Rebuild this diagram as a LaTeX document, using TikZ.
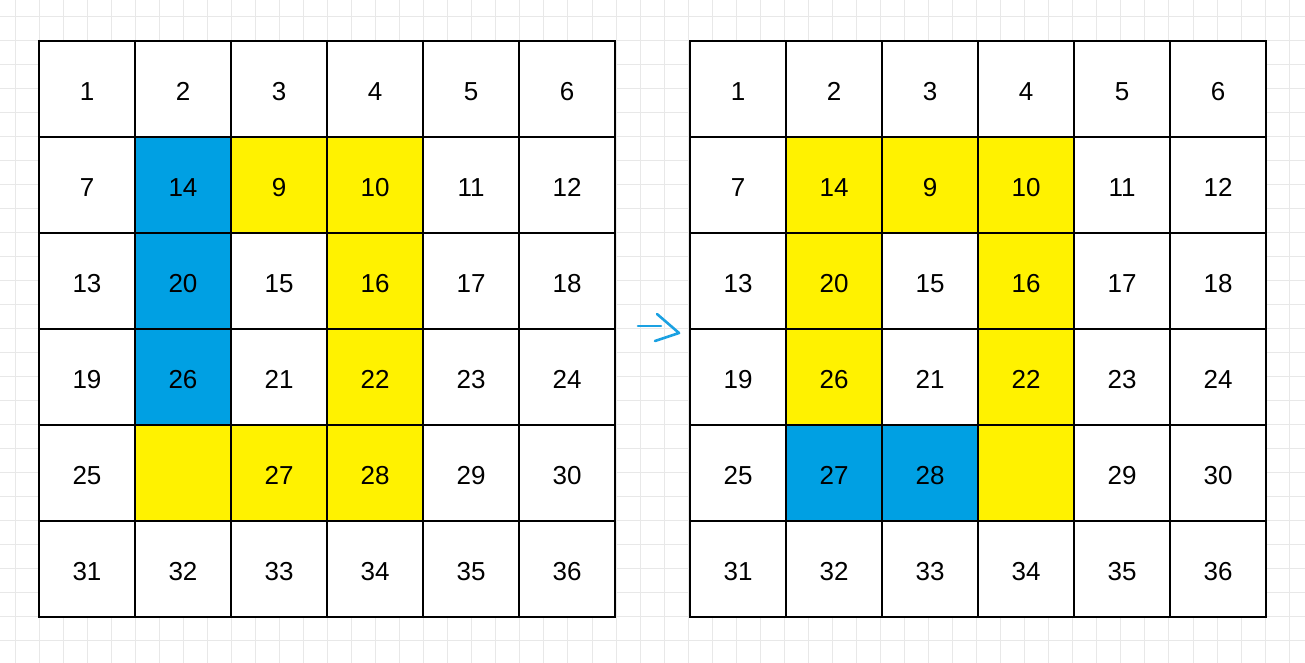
\documentclass[tikz,border=0pt]{standalone}
\usepackage{fontspec}
\setmainfont{Liberation Sans}
\definecolor{cblue}{HTML}{00A0E3}
\definecolor{cyellow}{HTML}{FFF200}
\definecolor{bgline}{HTML}{E8E8E8}
\definecolor{arrowblue}{HTML}{1BA1E2}
\tikzset{
  cell/.style={draw=black, line width=2.3pt, minimum size=96pt, inner sep=0pt,
    text height=22.6pt, text depth=0pt,
    font=\fontsize{26}{26}\selectfont},
  bggrid/.style={draw=bgline, line width=0.9pt},
  arr/.style={draw=arrowblue, line width=2.6pt, line cap=round, line join=round}
}
\begin{document}
\begin{tikzpicture}[x=1pt,y=-1pt]
\useasboundingbox[fill=white] (0,0) rectangle (1305,663);
% background grid
\foreach \k in {0,...,54} \draw[bggrid] ({15+24.04*\k},0) -- ({15+24.04*\k},663);
\foreach \k in {0,...,27} \draw[bggrid] (0,{16+24*\k}) -- (1305,{16+24*\k});
% left board
\foreach \row [count=\r from 0] in {
  {1/white,2/white,3/white,4/white,5/white,6/white},
  {7/white,14/cblue,9/cyellow,10/cyellow,11/white,12/white},
  {13/white,20/cblue,15/white,16/cyellow,17/white,18/white},
  {19/white,26/cblue,21/white,22/cyellow,23/white,24/white},
  {25/white,{}/cyellow,27/cyellow,28/cyellow,29/white,30/white},
  {31/white,32/white,33/white,34/white,35/white,36/white}}
  \foreach \t/\f [count=\c from 0] in \row
    \node[cell,fill=\f] (L\r\c) at ({87+96*\c},{89+96*\r}) {\t};
% right board
\foreach \row [count=\r from 0] in {
  {1/white,2/white,3/white,4/white,5/white,6/white},
  {7/white,14/cyellow,9/cyellow,10/cyellow,11/white,12/white},
  {13/white,20/cyellow,15/white,16/cyellow,17/white,18/white},
  {19/white,26/cyellow,21/white,22/cyellow,23/white,24/white},
  {25/white,27/cblue,28/cblue,{}/cyellow,29/white,30/white},
  {31/white,32/white,33/white,34/white,35/white,36/white}}
  \foreach \t/\f [count=\c from 0] in \row
    \node[cell,fill=\f] (R\r\c) at ({738+96*\c},{89+96*\r}) {\t};
% arrow
\coordinate (as) at (638,326);
\coordinate (ae) at (679,333);
\coordinate (h1) at (657,314);
\coordinate (h2) at (655,341);
\draw[arr] (as) -- (661,326);
\draw[arr] (h1) -- (ae) -- (h2);
\end{tikzpicture}
\end{document}
